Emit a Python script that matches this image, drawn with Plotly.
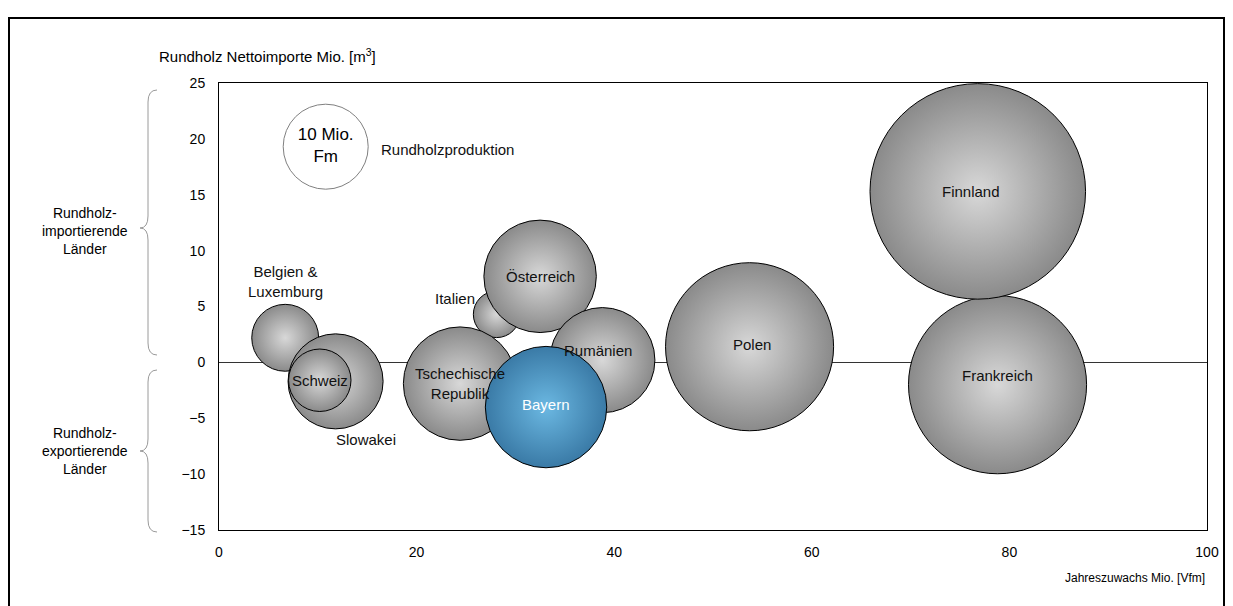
import plotly.graph_objects as go

# Laender: Jahreszuwachs (x), Rundholz-Nettoimporte (y), Rundholzproduktion (Bubble-Flaeche)
laender = ["Belgien &<br>Luxemburg", "Slowakei", "Schweiz", "Italien", "Österreich",
           "Tschechische<br>Republik", "Rumänien", "Polen", "Frankreich", "Finnland"]
zuwachs = [6.7, 11.8, 10.2, 28.1, 32.5, 24.4, 38.8, 53.7, 78.8, 76.8]
nettoimporte = [2.2, -1.7, -1.6, 4.3, 7.7, -1.9, 0.2, 1.4, -2.0, 15.3]
produktion = [6.2, 12.5, 5.4, 3.0, 17.5, 17.8, 15.3, 39.1, 43.9, 64.3]

bayern_zuwachs = [33.1]
bayern_import = [-4.0]
bayern_prod = [20.4]

legende_zuwachs = [10.8]
legende_import = [19.3]
legende_prod = [10.0]

# Seite hat 8px Rand, die Figur beginnt bei (8, 8)
OFF = 8
W, H = 1233 - OFF, 606 - OFF
P_L, P_R, P_T, P_B = 219, 1207, 83, 530  # Plotflaeche in Seitenkoordinaten
L, R, T, B = P_L - OFF, W - (P_R - OFF), P_T - OFF, H - (P_B - OFF)
pw, ph = P_R - P_L, P_B - P_T
sizeref = 2 * 10.0 / 85 ** 2
FONT = "Liberation Sans"


def px(x):
    return (x - P_L) / pw


def py(y):
    return (P_B - y) / ph


fig = go.Figure()

fig.add_trace(go.Scatter(
    x=legende_zuwachs, y=legende_import, mode="markers+text",
    marker=dict(size=legende_prod, sizemode="area", sizeref=sizeref, color="white",
                line=dict(color="#808080", width=1), opacity=1),
    text=["10 Mio.<br>Fm"], textposition="middle center",
    textfont=dict(size=17, color="black", family=FONT),
    hoverinfo="skip"))

fig.add_trace(go.Scatter(
    x=zuwachs, y=nettoimporte, mode="markers",
    marker=dict(size=produktion, sizemode="area", sizeref=sizeref, color="#8a8a8a",
                gradient=dict(type="radial", color="#d8d8d8"),
                line=dict(color="black", width=1), opacity=1),
    hovertext=laender, hoverinfo="text"))

fig.add_trace(go.Scatter(
    x=bayern_zuwachs, y=bayern_import, mode="markers",
    marker=dict(size=bayern_prod, sizemode="area", sizeref=sizeref, color="#3a7aa6",
                gradient=dict(type="radial", color="#6bb8e2"),
                line=dict(color="black", width=1), opacity=1),
    hovertext=["Bayern"], hoverinfo="text"))

# Beschriftungen (Versatz in Pixel relativ zum Bubble-Mittelpunkt)
versatz = {"Belgien &<br>Luxemburg": (0, 56), "Slowakei": (30, -58), "Italien": (-42, 16),
           "Rumänien": (-4, 10), "Frankreich": (0, 9), "Finnland": (-7, 0),
           "Polen": (2, 2)}
lab_font = dict(size=15, color="#111111", family=FONT)
for name, x, y in zip(laender, zuwachs, nettoimporte):
    dx, dy = versatz.get(name, (0, 0))
    fig.add_annotation(x=x, y=y, text=name, showarrow=False, xshift=dx, yshift=dy,
                       font=lab_font)
fig.add_annotation(x=bayern_zuwachs[0], y=bayern_import[0], text="Bayern", showarrow=False,
                   yshift=3, font=dict(size=15, color="white", family=FONT))
fig.add_annotation(x=legende_zuwachs[0], y=legende_import[0], text="Rundholzproduktion",
                   showarrow=False, xanchor="left", xshift=53, yshift=-3, font=lab_font)

# Achsentitel
fig.add_annotation(xref="paper", yref="paper", x=px(157), y=py(56), xanchor="left",
                   yanchor="middle", showarrow=False,
                   text="Rundholz Nettoimporte Mio. [m<sup>3</sup>]",
                   font=dict(size=15, color="black", family=FONT))
fig.add_annotation(xref="paper", yref="paper", x=1, y=py(578), xanchor="right",
                   yanchor="middle", showarrow=False, text="Jahreszuwachs Mio. [Vfm]",
                   font=dict(size=12, color="black", family=FONT))

# Seitliche Gruppen mit geschweiften Klammern
for text, top, bot, tip, ty in [("Rundholz-<br>importierende<br>Länder", 90, 355, 228, 231),
                                ("Rundholz-<br>exportierende<br>Länder", 370, 532, 451, 451)]:
    fig.add_annotation(xref="paper", yref="paper", x=px(85), y=py(ty), showarrow=False,
                       xanchor="center", yanchor="middle",
                       text=text, font=dict(size=14, color="black", family=FONT))
    xe, xl, xt, r = 157, 148, 140, 12
    path = (f"M {px(xe)},{py(top)} Q {px(xl)},{py(top)} {px(xl)},{py(top + r)} "
            f"L {px(xl)},{py(tip - r)} Q {px(xl)},{py(tip)} {px(xt)},{py(tip)} "
            f"Q {px(xl)},{py(tip)} {px(xl)},{py(tip + r)} "
            f"L {px(xl)},{py(bot - r)} Q {px(xl)},{py(bot)} {px(xe)},{py(bot)}")
    fig.add_shape(type="path", xref="paper", yref="paper", path=path,
                  line=dict(color="#9a9a9a", width=1))

# Rahmen um die gesamte Grafik
fig.add_shape(type="rect", xref="paper", yref="paper", x0=px(9), x1=px(1224),
              y0=py(640), y1=py(18), line=dict(color="black", width=2), layer="below")

fig.update_layout(
    width=W, height=H, margin=dict(l=L, r=R, t=T, b=B),
    plot_bgcolor="white", paper_bgcolor="white", showlegend=False,
    font=dict(family=FONT, size=14, color="black"),
    xaxis=dict(range=[0, 100], dtick=20, showgrid=False, zeroline=False, showline=True,
               linecolor="black", linewidth=1, mirror=True, ticks="",
               ticklabelstandoff=9, tickfont=dict(size=14)),
    yaxis=dict(range=[-15, 25], dtick=5, showgrid=False, zeroline=True, zerolinecolor="#333333",
               zerolinewidth=1, showline=True, linecolor="black", linewidth=1, mirror=True,
               ticks="", ticklabelstandoff=10, tickfont=dict(size=14)),
)

fig.write_html("out.html")
